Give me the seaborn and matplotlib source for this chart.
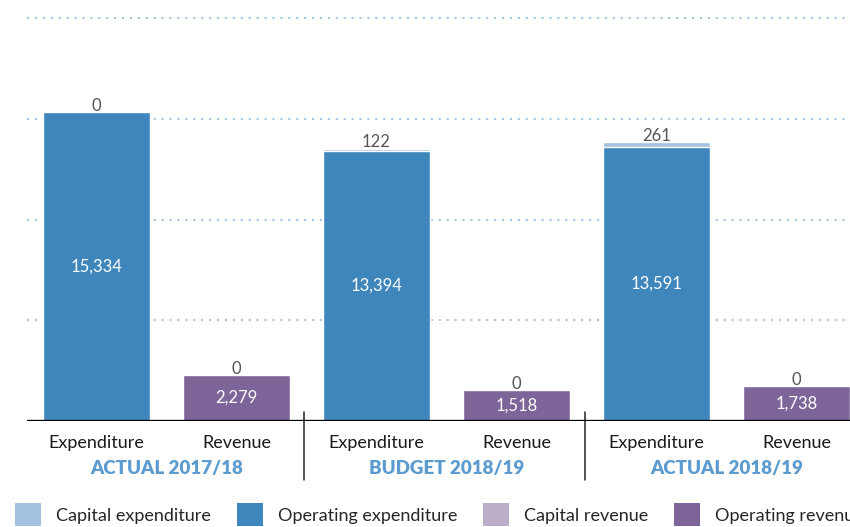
import pandas as pd
import matplotlib
matplotlib.use("Agg")
import matplotlib.pyplot as plt
import matplotlib.transforms as mtrans
from matplotlib.patches import Patch
import seaborn as sns

categories = ["Expenditure", "Revenue", "Expenditure", "Revenue", "Expenditure", "Revenue"]
groups     = ["ACTUAL 2017/18", "BUDGET 2018/19", "ACTUAL 2018/19"]
operating  = [15334, 2279, 13394, 1518, 13591, 1738]
capital    = [0, 0, 122, 0, 261, 0]
legend_labels = ["Capital expenditure", "Operating expenditure",
                 "Capital revenue", "Operating revenue"]

CAP_EXP = "#a4c0df"
OP_EXP  = "#3e86bc"
CAP_REV = "#bcaeca"
OP_REV  = "#7d6499"
GRID    = "#a9c5e4"
GROUP   = "#5b9bd0"

sns.set_theme(style="white")
plt.rcParams["font.family"] = ["Lato", "DejaVu Sans"]

df = pd.DataFrame({
    "bar": [f"b{i}" for i in range(len(categories))],
    "category": categories,
    "operating": operating,
    "capital": capital,
})
df["total"] = df["operating"] + df["capital"]
df["kind"] = ["exp" if c == "Expenditure" else "rev" for c in df["category"]]

fig = plt.figure(figsize=(8.5, 5.27), dpi=100)
ax = fig.add_axes([27 / 850, 106 / 527, 1 - 27 / 850, 421 / 527])

# dotted gridlines behind bars
for v in [5000, 10000, 15000, 20000]:
    ax.axhline(v, color=GRID, lw=1.5, ls=(0, (1, 2.8)), zorder=0)

# stacked bars: totals in capital colour, operating drawn on top
cap_pal = {r.bar: (CAP_EXP if r.kind == "exp" else CAP_REV) for r in df.itertuples()}
op_pal  = {r.bar: (OP_EXP if r.kind == "exp" else OP_REV) for r in df.itertuples()}
sns.barplot(data=df, x="bar", y="total", hue="bar", palette=cap_pal,
            width=0.764, saturation=1, legend=False, ax=ax, zorder=2)
sns.barplot(data=df, x="bar", y="operating", hue="bar", palette=op_pal,
            width=0.764, saturation=1, legend=False, ax=ax, zorder=3)

ax.set_xlim(-0.496, 5.382)
ax.set_ylim(0, 20900)
ax.axhline(0, color="black", lw=2.4, zorder=4)

for i, r in df.iterrows():
    ax.text(i, r.operating / 2, f"{r.operating:,}", color="white",
            ha="center", va="center", fontsize=12, zorder=5)
    ax.annotate(f"{r.capital:,}", (i, r.total), xytext=(0, 4.5),
                textcoords="offset points", ha="center", va="center",
                color="#555555", fontsize=12, zorder=5)

sns.despine(ax=ax, left=True, bottom=True)
ax.set_xlabel("")
ax.set_ylabel("")
ax.set_yticks([])
ax.set_xticks(range(len(categories)))
ax.set_xticklabels(categories, fontsize=13, color="#1a1a1a")
ax.tick_params(axis="x", length=0, pad=10)

trans = mtrans.blended_transform_factory(ax.transData, ax.transAxes)
for g, name in enumerate(groups):
    ax.text(2 * g + 0.5, -0.113, name, transform=trans, ha="center", va="center",
            fontsize=13.5, fontweight="heavy", color=GROUP)
for xs in [1.48, 3.49]:
    ax.plot([xs, xs], [0.021, -0.14], transform=trans, color="#222222",
            lw=1.1, clip_on=False)

handles = [Patch(facecolor=c, edgecolor="none") for c in [CAP_EXP, OP_EXP, CAP_REV, OP_REV]]
fig.legend(handles, legend_labels, ncol=4, loc="upper left",
           bbox_to_anchor=(15 / 850, 1 - 503 / 527), frameon=False,
           fontsize=13, borderpad=0, borderaxespad=0, handlelength=1.44,
           handleheight=1.6, handletextpad=0.83, columnspacing=1.44)

fig.savefig("out.png", dpi=100)
